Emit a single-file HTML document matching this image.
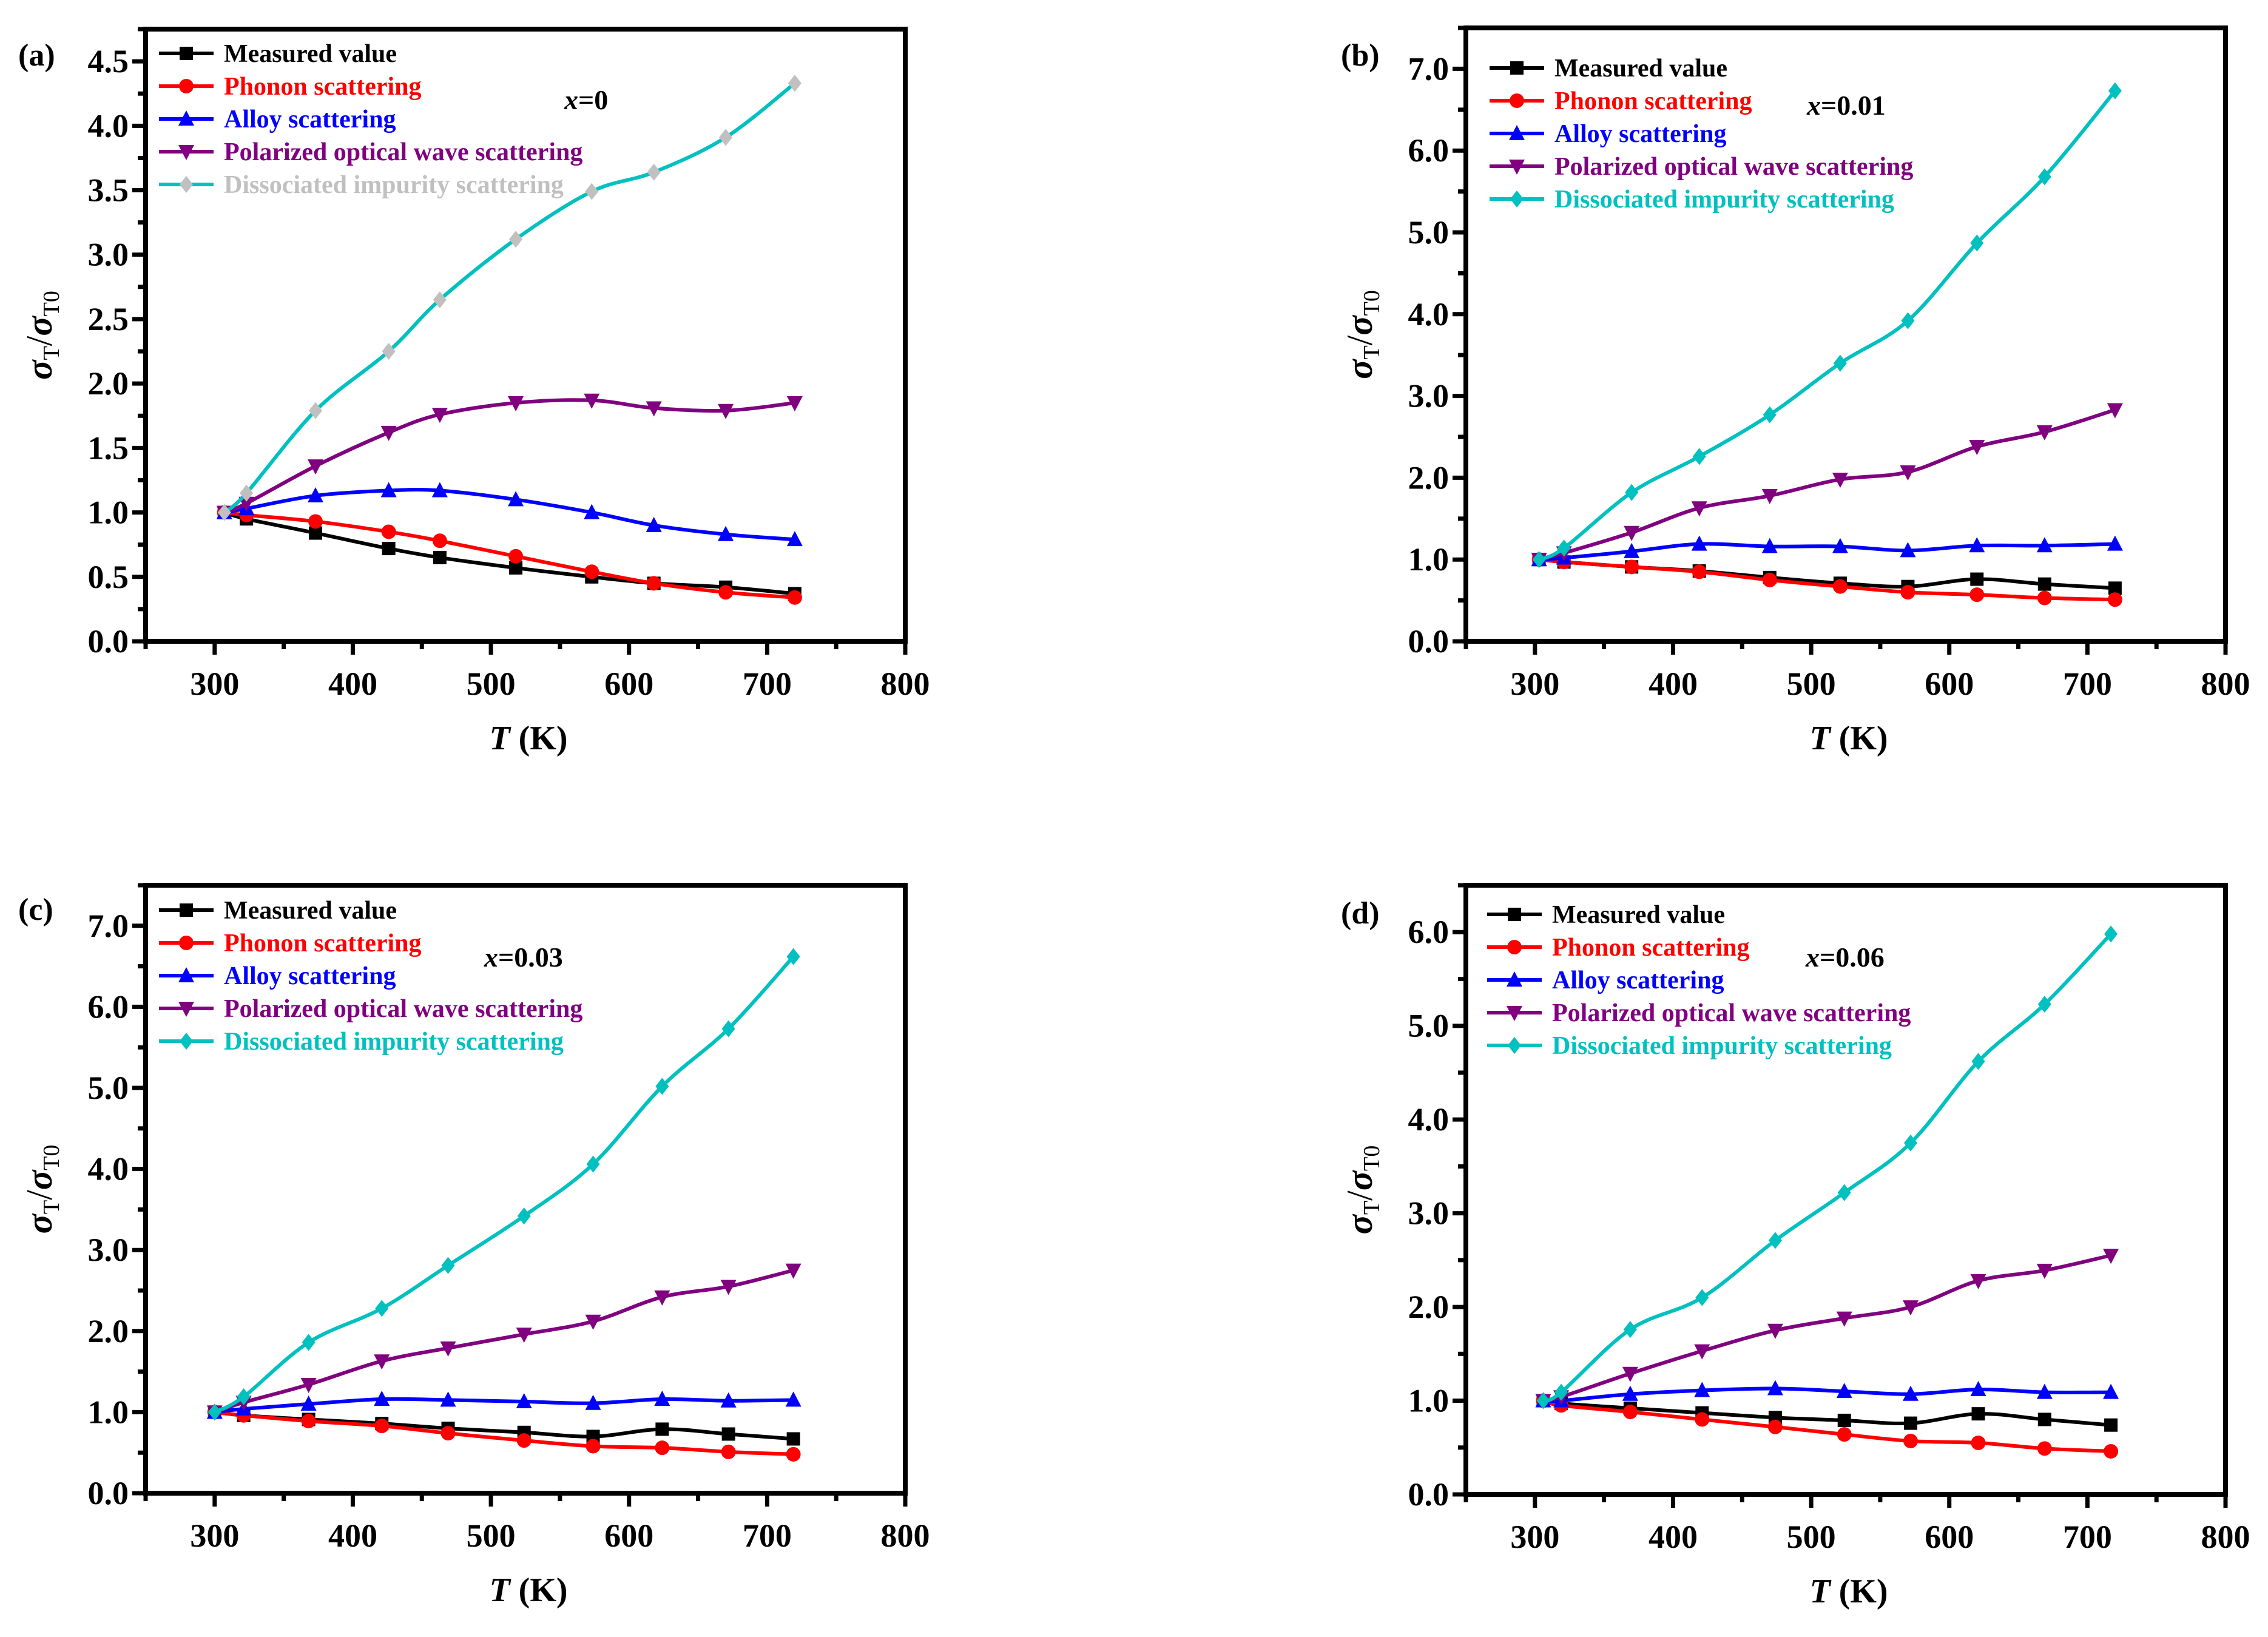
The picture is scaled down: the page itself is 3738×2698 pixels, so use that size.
<!DOCTYPE html>
<html><head><meta charset="utf-8"><style>
html,body{margin:0;padding:0;background:#fff}
svg{display:block}
text{font-family:"Liberation Serif",serif;font-weight:bold}
</style></head><body>
<svg id="fig" width="3738" height="2698" viewBox="0 0 3738 2698" xmlns="http://www.w3.org/2000/svg"></svg>
<script>
const seriesNames = ["Measured value","Phonon scattering","Alloy scattering","Polarized optical wave scattering","Dissociated impurity scattering"];
const tempsA = [307,323,373,426,463,518,573,618,670,720];
const measA = [1.0,0.95,0.84,0.72,0.65,0.57,0.50,0.45,0.42,0.37];
const phonA = [1.0,0.98,0.93,0.85,0.78,0.66,0.54,0.45,0.38,0.34];
const alloyA = [1.0,1.03,1.13,1.17,1.17,1.10,1.00,0.90,0.83,0.79];
const polarA = [1.0,1.07,1.36,1.62,1.76,1.85,1.87,1.81,1.79,1.85];
const dissA = [1.0,1.15,1.79,2.25,2.65,3.12,3.49,3.64,3.91,4.33];
const tempsB = [303,321,370,419,470,521,570,620,669,720];
const measB = [1.0,0.97,0.91,0.86,0.78,0.71,0.67,0.76,0.70,0.65];
const phonB = [1.0,0.97,0.91,0.85,0.75,0.67,0.60,0.57,0.53,0.51];
const alloyB = [1.0,1.02,1.10,1.19,1.16,1.16,1.11,1.17,1.17,1.19];
const polarB = [1.0,1.08,1.33,1.63,1.78,1.98,2.07,2.38,2.56,2.83];
const dissB = [1.0,1.14,1.82,2.26,2.77,3.40,3.92,4.87,5.68,6.73];
const tempsC = [300,321,368,421,469,524,574,624,672,719];
const measC = [1.0,0.96,0.91,0.86,0.80,0.75,0.70,0.79,0.73,0.67];
const phonC = [1.0,0.96,0.89,0.83,0.74,0.65,0.58,0.56,0.51,0.48];
const alloyC = [1.0,1.04,1.10,1.16,1.15,1.13,1.11,1.16,1.14,1.15];
const polarC = [1.0,1.12,1.34,1.63,1.79,1.96,2.12,2.42,2.55,2.75];
const dissC = [1.0,1.19,1.86,2.28,2.81,3.42,4.06,5.02,5.73,6.62];
const tempsD = [306,319,369,421,474,524,572,621,669,717];
const measD = [1.0,0.97,0.92,0.87,0.82,0.79,0.76,0.86,0.80,0.74];
const phonD = [1.0,0.95,0.88,0.80,0.72,0.64,0.57,0.55,0.49,0.46];
const alloyD = [1.0,1.0,1.07,1.11,1.13,1.10,1.07,1.12,1.09,1.09];
const polarD = [1.0,1.04,1.29,1.53,1.75,1.88,2.0,2.28,2.39,2.55];
const dissD = [1.0,1.09,1.76,2.1,2.71,3.22,3.75,4.62,5.23,5.98];
const xTickLabels = ["300","400","500","600","700","800"];
const yTickLabelsA = ["0.0","0.5","1.0","1.5","2.0","2.5","3.0","3.5","4.0","4.5"];
const yTickLabelsB = ["0.0","1.0","2.0","3.0","4.0","5.0","6.0","7.0"];
const yTickLabelsD = ["0.0","1.0","2.0","3.0","4.0","5.0","6.0"];

const NS="http://www.w3.org/2000/svg";
const svg=document.getElementById('fig');
function mk(tag,attrs,parent){const e=document.createElementNS(NS,tag);for(const k in attrs)e.setAttribute(k,attrs[k]);(parent||svg).appendChild(e);return e;}
const colors=["#000000","#ff0000","#0000ff","#800080","#00c0c0"];
const markerTypes=["square","circle","up","down","diamond"];

function marker(g,type,x,y,fill){
  const s=11;let e;
  if(type==="square")e=mk('rect',{x:x-s,y:y-s,width:2*s,height:2*s,fill:fill},g);
  else if(type==="circle")e=mk('circle',{cx:x,cy:y,r:s+1,fill:fill},g);
  else if(type==="up")e=mk('polygon',{points:`${x},${y-s-3} ${x+s+2},${y+s} ${x-s-2},${y+s}`,fill:fill},g);
  else if(type==="down")e=mk('polygon',{points:`${x},${y+s+3} ${x+s+2},${y-s} ${x-s-2},${y-s}`,fill:fill},g);
  else e=mk('polygon',{points:`${x},${y-s-3} ${x+s},${y} ${x},${y+s+3} ${x-s},${y}`,fill:fill},g);
  return e;
}
function smoothPath(pts){
  let d=`M${pts[0][0]},${pts[0][1]}`;
  for(let i=0;i<pts.length-1;i++){
    const p0=pts[Math.max(0,i-1)],p1=pts[i],p2=pts[i+1],p3=pts[Math.min(pts.length-1,i+2)];
    const c1=[p1[0]+(p2[0]-p0[0])/6,p1[1]+(p2[1]-p0[1])/6];
    const c2=[p2[0]-(p3[0]-p1[0])/6,p2[1]-(p3[1]-p1[1])/6];
    d+=` C${c1[0]},${c1[1]} ${c2[0]},${c2[1]} ${p2[0]},${p2[1]}`;
  }
  return d;
}

function panel(cfg){
  const g=mk('g',{});
  
  
  const {L,R,T,B,ymax,ystep,ylabels}=cfg;
  const xs=v=>L+(v-250)/(800-250)*(R-L);
  const ys=v=>B-v/ymax*(B-T);
  const ta=mk('g',{},g);
  
  
  for(let v=250;v<=800;v+=50){
    const major=(v%100===0);
    mk('line',{x1:xs(v),x2:xs(v),y1:B,y2:B+(major?22:13),stroke:'#000','stroke-width':7},ta);
  }
  xTickLabels.forEach((lab,i)=>{
    const t=mk('text',{x:xs(300+100*i),y:B+88,'text-anchor':'middle','font-size':54},ta);
    t.textContent=lab;
    
    
  });
  const yaEl=mk('g',{},g);
  
  
  for(let v=0;v<=ymax+1e-9;v+=ystep/2){
    const major=Math.abs(v/ystep-Math.round(v/ystep))<1e-6;
    mk('line',{x1:L,x2:L-(major?22:13),y1:ys(v),y2:ys(v),stroke:'#000','stroke-width':7},yaEl);
  }
  ylabels.forEach((lab,i)=>{
    const t=mk('text',{x:L-28,y:ys(i*ystep)+18,'text-anchor':'end','font-size':54},yaEl);
    t.textContent=lab;
    
    
  });
  cfg.series.forEach((vals,si)=>{
    const sg=mk('g',{},g);
    
    
    const pts=vals.map((v,i)=>[xs(cfg.temps[i]),ys(v)]);
    mk('path',{d:smoothPath(pts),fill:'none',stroke:colors[si],'stroke-width':6},sg);
    const mfill=(si===4&&cfg.grayDiamond)?'#c0c0c0':colors[si];
    pts.forEach(p=>{
      const m=marker(sg,markerTypes[si],p[0],p[1],mfill);
      
      
    });
  });
  mk('rect',{x:L,y:T,width:R-L,height:B-T,fill:'none',stroke:'#000','stroke-width':8},g);
  const lg=mk('g',{},g);
  
  
  seriesNames.forEach((nm,i)=>{
    const y=cfg.legY+i*cfg.legStep;
    const eg=mk('g',{},lg);
    
    
    mk('line',{x1:cfg.legX,x2:cfg.legX+90,y1:y,y2:y,stroke:colors[i],'stroke-width':6},eg);
    marker(eg,markerTypes[i],cfg.legX+45,y,(i===4&&cfg.grayDiamond)?'#c0c0c0':colors[i]);
    const t=mk('text',{x:cfg.legX+107,y:y+14,'font-size':42,fill:(i===4&&cfg.grayDiamond)?'#c0c0c0':colors[i]},eg);
    t.textContent=nm;
  });
  const c=mk('text',{x:cfg.compX,y:cfg.compY,'font-size':46},g);
  
  
  const ci=mk('tspan',{'font-style':'italic'},c);ci.textContent='x';
  const cr=mk('tspan',{},c);cr.textContent='='+cfg.comp;
  const pl=mk('text',{x:cfg.plX,y:cfg.plY,'font-size':52},g);
  pl.textContent='('+cfg.id+')';
  
  
  const cy=(T+B)/2, tx=L-155;
  const yt=mk('text',{transform:`translate(${tx},${cy}) rotate(-90)`,'text-anchor':'middle','font-size':60},g);
  
  
  let s=mk('tspan',{'font-style':'italic'},yt);s.textContent='σ';
  s=mk('tspan',{'font-size':38,dy:12,'font-weight':'normal'},yt);s.textContent='T';
  s=mk('tspan',{dy:-12,'font-weight':'normal'},yt);s.textContent='/';
  s=mk('tspan',{'font-style':'italic'},yt);s.textContent='σ';
  s=mk('tspan',{'font-size':38,dy:12,'font-weight':'normal'},yt);s.textContent='T0';
  const xt=mk('text',{x:(xs(250)+xs(800))/2+5,y:B+178,'text-anchor':'middle','font-size':56},g);
  
  
  s=mk('tspan',{'font-style':'italic'},xt);s.textContent='T';
  s=mk('tspan',{},xt);s.textContent=' (K)';
}

panel({id:'a',L:240,R:1492,T:48,B:1057,ymax:4.75,ystep:0.5,ylabels:yTickLabelsA,temps:tempsA,
  series:[measA,phonA,alloyA,polarA,dissA],grayDiamond:true,legX:262,legY:88,legStep:54,
  compX:930,compY:180,comp:'0',plX:30,plY:108});
panel({id:'b',L:2416,R:3668,T:46,B:1057,ymax:7.5,ystep:1,ylabels:yTickLabelsB,temps:tempsB,
  series:[measB,phonB,alloyB,polarB,dissB],legX:2455,legY:112,legStep:54,
  compX:2978,compY:189,comp:'0.01',plX:2210,plY:108});
panel({id:'c',L:240,R:1492,T:1459,B:2461,ymax:7.5,ystep:1,ylabels:yTickLabelsB,temps:tempsC,
  series:[measC,phonC,alloyC,polarC,dissC],legX:262,legY:1500,legStep:54,
  compX:798,compY:1593,comp:'0.03',plX:30,plY:1516});
panel({id:'d',L:2416,R:3668,T:1459,B:2463,ymax:6.5,ystep:1,ylabels:yTickLabelsD,temps:tempsD,
  series:[measD,phonD,alloyD,polarD,dissD],legX:2451,legY:1507,legStep:54,
  compX:2976,compY:1593,comp:'0.06',plX:2210,plY:1522});
</script>
</body></html>
